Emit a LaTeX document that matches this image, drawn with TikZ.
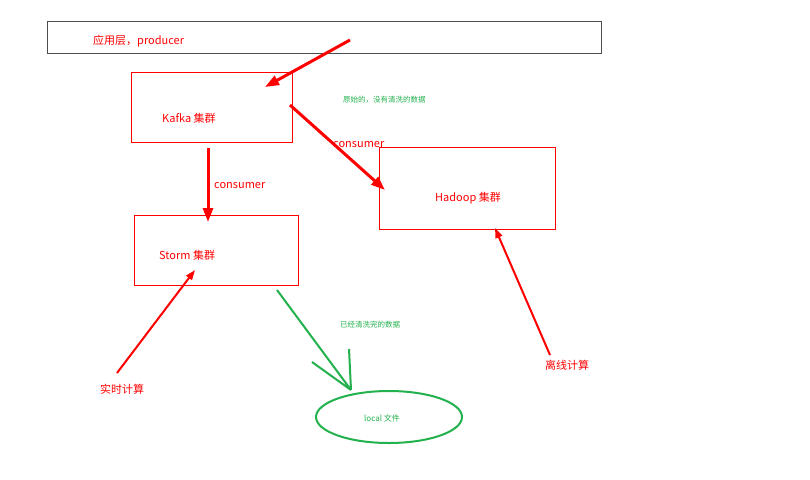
\documentclass[tikz,border=0pt]{standalone}
\usepackage{fontspec}
\setmainfont{Noto Sans CJK SC}
\usetikzlibrary{arrows.meta}
\definecolor{rr}{RGB}{255,0,0}
\definecolor{gg}{RGB}{34,177,76}
\begin{document}
\begin{tikzpicture}[x=1pt,y=-1pt,
 box/.style={draw=#1,line width=0.6pt},
 rt/.style={text=rr,font=\fontsize{11}{13}\selectfont,inner sep=0},
 gt/.style={text=gg,font=\fontsize{7.5}{9}\selectfont,inner sep=0},
 rar/.style={draw=rr,line width=3pt,-{Triangle[length=14pt,width=10pt]}}]
\useasboundingbox (0,0) rectangle (810,479);
\draw[box=black!70] (47,21) rectangle (601,53);
\draw[box=rr] (131,72) rectangle (292,142);
\draw[box=rr] (379,147) rectangle (555,229);
\draw[box=rr] (134,215) rectangle (298,285);
\node[rt,anchor=west] (app) at (93,41) {应用层，producer};
\node[rt,anchor=west] (kafka) at (162,118) {Kafka 集群};
\node[rt,anchor=west] (hadoop) at (435,198) {Hadoop 集群};
\node[rt,anchor=west] (storm) at (159,255) {Storm 集群};
\node[rt,anchor=west] (c1) at (214,186) {consumer};
\node[rt,anchor=west] (c2) at (333,145) {consumer};
\node[rt,anchor=west] (rt1) at (100,389) {实时计算};
\node[rt,anchor=west] (lx) at (545,365) {离线计算};
\node[gt,anchor=west] (raw) at (343,100) {原始的，没有清洗的数据};
\node[gt,anchor=west] (clean) at (340,325) {已经清洗完的数据};
\draw[gg,line width=2pt] (389,417) ellipse (73 and 26);
\node[gt,font=\fontsize{8}{9}\selectfont] (local) at (382,418) {local 文件};
\coordinate (a1s) at (350,40); \coordinate (a1e) at (265,87);
\coordinate (a2s) at (290,105); \coordinate (a2e) at (385,190);
\coordinate (a3s) at (208,148); \coordinate (a3e) at (208,222);
\coordinate (a4s) at (117,373); \coordinate (a4e) at (195,270);
\coordinate (a5s) at (550,355); \coordinate (a5e) at (495,228);
\draw[rar] (a1s) -- (a1e);
\draw[rar] (a2s) -- (a2e);
\draw[rar] (a3s) -- (a3e);
\draw[draw=rr,line width=2pt,-{Triangle[length=10pt,width=7pt]}] (a4s) -- (a4e);
\draw[draw=rr,line width=2pt,-{Triangle[length=10pt,width=7pt]}] (a5s) -- (a5e);
\coordinate (g0) at (277,290); \coordinate (g1) at (351,390);
\coordinate (g2) at (312,362); \coordinate (g3) at (349,349);
\draw[gg,line width=2pt] (g0) -- (g1) (g2) -- (g1) (g3) -- (g1);
\end{tikzpicture}
\end{document}
